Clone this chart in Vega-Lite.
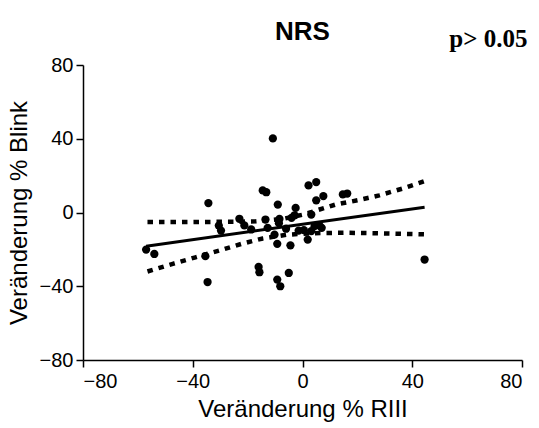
{
  "$schema": "https://vega.github.io/schema/vega-lite/v6.json",
  "width": 439,
  "height": 295,
  "autosize": "none",
  "padding": {"left": 83, "top": 65, "right": 17, "bottom": 68},
  "background": "white",
  "config": {
    "view": {"stroke": null},
    "font": "Liberation Sans",
    "axis": {
      "grid": false,
      "domainColor": "black",
      "domainWidth": 1.5,
      "tickColor": "black",
      "tickWidth": 1.5,
      "tickSize": 7,
      "labelColor": "black",
      "labelFont": "Liberation Sans",
      "labelFontSize": 20,
      "titleColor": "black",
      "titleFont": "Liberation Sans",
      "titleFontSize": 24,
      "titleFontWeight": "normal"
    }
  },
  "datasets": {
    "punkte": [
      {"riii": -10.8, "blink": 40.2},
      {"riii": -34.3, "blink": 5.1},
      {"riii": -14.5, "blink": 12.0},
      {"riii": -13.2, "blink": 11.0},
      {"riii": 2.2, "blink": 14.7},
      {"riii": 5.0, "blink": 16.5},
      {"riii": 7.6, "blink": 8.9},
      {"riii": 5.0, "blink": 6.6},
      {"riii": 14.7, "blink": 9.8},
      {"riii": 16.3, "blink": 10.3},
      {"riii": -9.0, "blink": 4.3},
      {"riii": -2.5, "blink": 2.5},
      {"riii": -23.0, "blink": -3.4},
      {"riii": -30.5, "blink": -7.1},
      {"riii": -29.7, "blink": -9.8},
      {"riii": -21.2, "blink": -7.0},
      {"riii": -18.7, "blink": -9.2},
      {"riii": -13.5, "blink": -3.8},
      {"riii": -12.7, "blink": -8.3},
      {"riii": -8.4, "blink": -3.5},
      {"riii": -8.6, "blink": -5.8},
      {"riii": -4.0, "blink": -2.9},
      {"riii": -2.9, "blink": -1.5},
      {"riii": 3.2, "blink": -1.1},
      {"riii": -10.2, "blink": -12.0},
      {"riii": -6.0, "blink": -8.8},
      {"riii": -1.4, "blink": -9.8},
      {"riii": 0.5, "blink": -9.6},
      {"riii": 3.2, "blink": -10.1},
      {"riii": 4.4, "blink": -7.4},
      {"riii": 6.2, "blink": -7.1},
      {"riii": 7.0, "blink": -8.3},
      {"riii": 1.9, "blink": -14.7},
      {"riii": -9.2, "blink": -17.0},
      {"riii": -4.4, "blink": -17.8},
      {"riii": -57.0, "blink": -20.1},
      {"riii": -54.0, "blink": -22.5},
      {"riii": -35.4, "blink": -23.7},
      {"riii": -16.0, "blink": -29.5},
      {"riii": -15.7, "blink": -32.4},
      {"riii": -34.6, "blink": -37.7},
      {"riii": -9.2, "blink": -36.4},
      {"riii": -8.1, "blink": -40.0},
      {"riii": -5.0, "blink": -32.8},
      {"riii": 44.5, "blink": -25.5}
    ],
    "regression": [
      {"riii": -57.0, "blink": -18.3},
      {"riii": 44.5, "blink": 2.9}
    ],
    "band_oben": [
      {"riii": -56.5, "blink": -5.2},
      {"riii": -45.0, "blink": -5.2},
      {"riii": -35.0, "blink": -5.1},
      {"riii": -25.0, "blink": -5.0},
      {"riii": -17.0, "blink": -4.8},
      {"riii": -7.0, "blink": -3.4},
      {"riii": 0.0, "blink": -1.2},
      {"riii": 4.0, "blink": 0.6},
      {"riii": 12.0, "blink": 4.3},
      {"riii": 21.0, "blink": 6.9},
      {"riii": 28.0, "blink": 9.3},
      {"riii": 36.5, "blink": 13.0},
      {"riii": 44.5, "blink": 17.0}
    ],
    "band_unten": [
      {"riii": -56.5, "blink": -32.0},
      {"riii": -47.0, "blink": -27.7},
      {"riii": -39.0, "blink": -24.3},
      {"riii": -30.0, "blink": -20.5},
      {"riii": -22.0, "blink": -16.9},
      {"riii": -14.5, "blink": -14.1},
      {"riii": -6.0, "blink": -12.1},
      {"riii": 4.0, "blink": -11.2},
      {"riii": 15.0, "blink": -11.0},
      {"riii": 25.0, "blink": -11.2},
      {"riii": 35.0, "blink": -11.5},
      {"riii": 44.5, "blink": -11.8}
    ],
    "titel": [
      {"label": "NRS", "riii": 0, "blink": 93.6}
    ],
    "signifikanz": [
      {"label": "p> 0.05", "riii": 82, "blink": 89.8}
    ]
  },
  "encoding": {
    "x": {
      "field": "riii",
      "type": "quantitative",
      "scale": {"domain": [-80, 80], "nice": false, "zero": false},
      "axis": {"values": [-80, -40, 0, 40, 80], "title": "Veränderung % RIII", "labelPadding": 4, "titlePadding": 6}
    },
    "y": {
      "field": "blink",
      "type": "quantitative",
      "scale": {"domain": [-80, 80], "nice": false, "zero": false},
      "axis": {"values": [-80, -40, 0, 40, 80], "title": "Veränderung % Blink", "labelPadding": 3, "titlePadding": 8}
    }
  },
  "layer": [
    {
      "mark": {"type": "rule", "color": "black", "strokeWidth": 1, "strokeDash": [1, 2.5]},
      "encoding": {"x": null, "y": {"datum": 0}}
    },
    {
      "data": {"name": "band_oben"},
      "mark": {"type": "line", "color": "black", "strokeWidth": 4.5, "strokeDash": [5.5, 6]}
    },
    {
      "data": {"name": "band_unten"},
      "mark": {"type": "line", "color": "black", "strokeWidth": 4.5, "strokeDash": [5.5, 6]}
    },
    {
      "data": {"name": "regression"},
      "mark": {"type": "line", "color": "black", "strokeWidth": 3}
    },
    {
      "data": {"name": "punkte"},
      "mark": {"type": "circle", "color": "black", "opacity": 1, "size": 68}
    },
    {
      "data": {"name": "titel"},
      "mark": {"type": "text", "font": "Liberation Sans", "fontWeight": "bold", "fontSize": 26, "align": "center", "baseline": "alphabetic", "clip": false, "color": "black"},
      "encoding": {"text": {"field": "label"}}
    },
    {
      "data": {"name": "signifikanz"},
      "mark": {"type": "text", "font": "Liberation Serif", "fontWeight": "bold", "fontSize": 25, "align": "right", "baseline": "alphabetic", "clip": false, "color": "black"},
      "encoding": {"text": {"field": "label"}}
    }
  ]
}
